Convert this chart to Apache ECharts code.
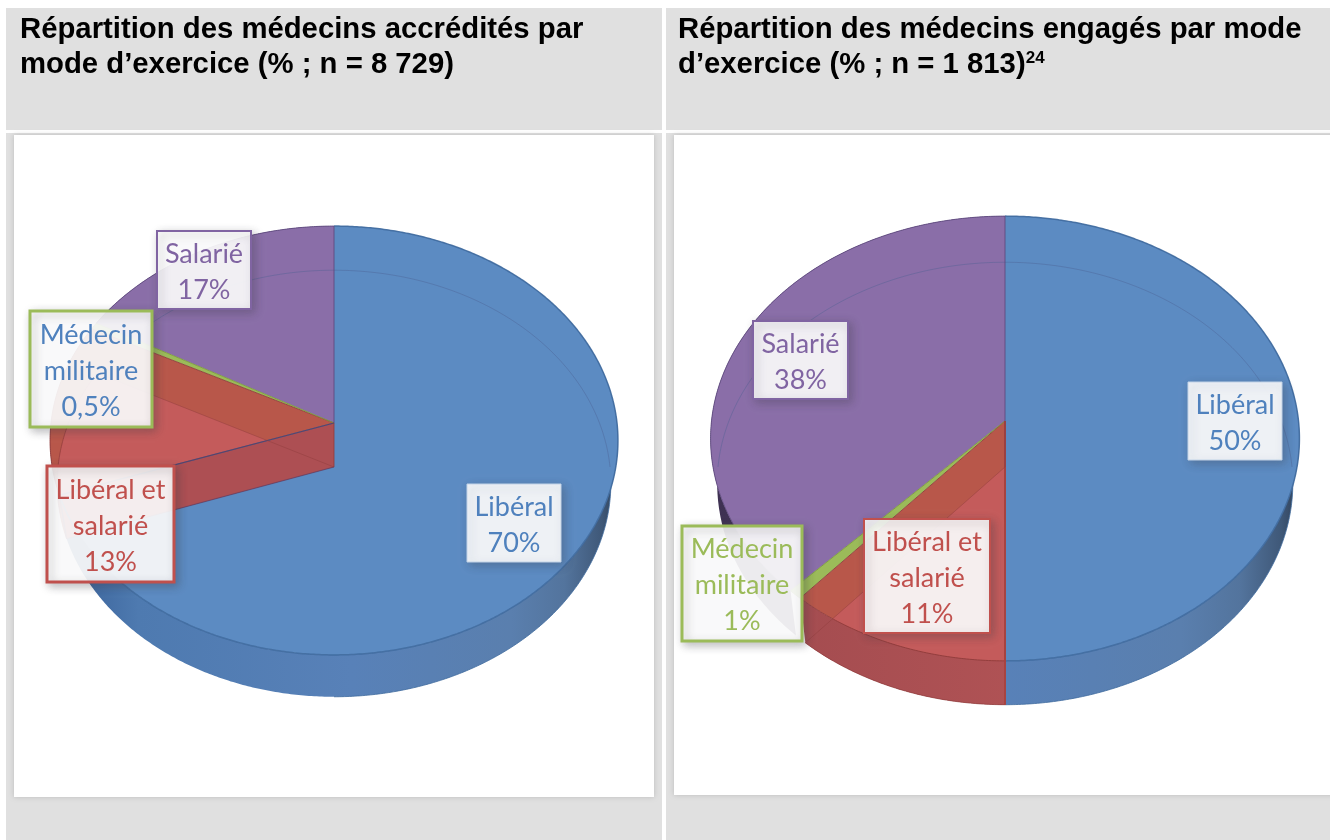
<!DOCTYPE html>
<html><head><meta charset="utf-8">
<style>html,body{margin:0;padding:0;background:#fff}#c{width:1330px;height:840px}</style>
<script src="https://cdn.jsdelivr.net/npm/echarts@6/dist/echarts.min.js"></script>
</head><body><div id="c"></div>
<script>
// --- data ---
const categories = ['Libéral', 'Libéral et salarié', 'Médecin militaire', 'Salarié'];
const accredites = [70, 13, 0.5, 17];
const engages = [50, 11.4, 0.7, 37.9];
const accreditesLabels = ['70%', '13%', '0,5%', '17%'];
const engagesLabels = ['50%', '11%', '1%', '38%'];
const labelNames = ['Libéral', 'Libéral et\nsalarié', 'Médecin\nmilitaire', 'Salarié'];
const titles = [
  'Répartition des médecins accrédités par\nmode d’exercice (% ; n = 8 729)',
  'Répartition des médecins engagés par mode\nd’exercice (% ; n = 1 813)'
];
const footnote = '24';

// --- styles & geometry ---
const C = {
  top: ['#5C8BC2', '#C45B5B', '#9BBB59', '#8A6EA8'],
  bandA: '#B8574A', bandC: '#AD4F53',
  edge: ['#3F6A9E', '#8E3B3B', '#7C9A3E', '#5F4A80'],
  border: ['#C3D4E8', '#C0504D', '#9BBB59', '#8064A2']
};
const pieA = {
  top: {cx: 334, cy: 423, a: 283, b: 213, k: 0.0816},
  bot: {cx: 334, cy: 467, a: 276, b: 212, k: 0.0773},
  left: 85, right: 618, r0Edge: '#5A3F66', r0W: 1.2,
  boxes: [[467, 484, 94, 78], [47, 466, 127, 116], [30, 311, 122, 116], [157, 231, 94, 78]],
  boxLw: [1, 3, 3, 2],
  textCol: ['#4F81BD', '#C0504D', '#4F81BD', '#8064A2'],
  values: accredites, pct: accreditesLabels
};
const pieB = {
  top: {cx: 1005, cy: 421, a: 293.5, b: 221, k: 0.0787},
  bot: {cx: 1005, cy: 467, a: 287, b: 220, k: 0.0745},
  left: 710, right: 1299, r0Edge: '#A8423F', r0W: 2,
  boxes: [[1188, 382, 94, 78], [864, 519, 126, 114], [682, 526, 120, 115], [753, 321, 95, 78]],
  boxLw: [1, 2, 3, 2],
  textCol: ['#4F81BD', '#C0504D', '#9BBB59', '#8064A2'],
  values: engages, pct: engagesLabels
};

function pt(g, deg) {
  const t = deg * Math.PI / 180, sx = Math.sin(t), sy = -Math.cos(t), d = 1 - g.k * sy;
  return [g.cx + g.a * sx / d, g.cy + g.b * sy / d];
}
function arc(g, a0, a1) {
  const pts = [], n = Math.max(2, Math.ceil(Math.abs(a1 - a0) / 0.5));
  for (let i = 0; i <= n; i++) pts.push(pt(g, a0 + (a1 - a0) * i / n));
  return pts;
}
const sector = (g, a0, a1) => [[g.cx, g.cy]].concat(arc(g, a0, a1));
function angles(values) {
  const tot = values.reduce((s, v) => s + v, 0); let c = 0;
  return values.map(v => { const a = c; c += v; return [a / tot * 360, c / tot * 360]; });
}
function wallFill(p, i) {
  const stops = i === 0
    ? [[0, '#3E679E'], [0.1, '#4E7AB0'], [0.5, '#5881B8'], [0.8, '#5A7FAE'], [0.9, '#53749D'], [0.97, '#3F5878'], [1, '#2F3F55']]
    : i === 1 ? [[0, '#A04A4E'], [1, '#BE5A5B']]
    : [[0, '#3E3152'], [1, '#5F4A80']];
  return {type: 'linear', x: p.left, y: 0, x2: p.right, y2: 0, global: true,
    colorStops: stops.map(s => ({offset: s[0], color: s[1]}))};
}
function poly(points, style, extra) {
  return Object.assign({type: 'polygon', shape: {points}, style}, extra || {});
}
function line(points, stroke, w, op) {
  return {type: 'polyline', shape: {points}, style: {fill: 'none', stroke, lineWidth: w, opacity: op == null ? 1 : op}};
}
function pieLayers(p) {
  const A = angles(p.values), L = [];
  const apexT = [p.top.cx, p.top.cy], apexB = [p.bot.cx, p.bot.cy];
  // outer walls
  [3, 0].forEach(i => {
    const w = arc(p.top, A[i][0], A[i][1]).concat(arc(p.bot, A[i][1], A[i][0]));
    L.push(poly(w, {fill: wallFill(p, i)}));
  });
  // bottom silhouette
  L.push(line(arc(p.bot, 90, 180), '#3F6A9E', 1, 0.8));
  // top faces
  [3, 0].forEach(i => {
    L.push(poly(sector(p.top, A[i][0], A[i][1]), {fill: C.top[i]}));
  });
  // see-through rim of the lower face
  L.push(line(arc(p.bot, 270, 450), '#4A5F90', 1, 0.4));
  // second slice: lower face, radial wall, outer wall, upper face, overlap
  const r = A[1], g = A[2];
  L.push(poly(sector(p.bot, r[0], r[1]), {fill: C.bandC}));
  L.push(poly([apexT, pt(p.top, r[0]), pt(p.bot, r[0]), apexB], {fill: C.bandC}));
  L.push(poly(arc(p.top, r[0], r[1]).concat(arc(p.bot, r[1], r[0])), {fill: wallFill(p, 1)}));
  L.push(poly(sector(p.top, r[0], r[1]), {fill: C.bandA}));
  L.push(poly(sector(p.bot, r[0], r[1]), {fill: C.top[1]},
    {clipPath: {type: 'polygon', shape: {points: sector(p.top, r[0], r[1])}}}));
  // third slice
  L.push(poly(sector(p.top, g[0], g[1]), {fill: C.top[2]}));
  // strokes
  A.forEach((a, i) => {
    L.push(line(arc(p.top, a[0], a[1]), C.edge[i], i === 0 ? 1.5 : 1, 0.9));
    L.push(line([apexT, pt(p.top, a[1])], C.edge[i], 1, 0.9));
  });
  L.push(line([apexT, pt(p.top, r[0])], p.r0Edge, p.r0W, 0.9));
  L.push(line([apexT, apexB], '#8E3B3B', 1, 0.8));
  L.push(line(arc(p.bot, r[0], r[1]), '#8E3B3B', 1, 0.7));
  L.push(line([apexB, pt(p.bot, r[0])], p.r0Edge, p.r0W, 0.7));
  L.push(line([pt(p.top, r[0]), pt(p.bot, r[0])], p.r0Edge, p.r0W, 0.9));
  L.push(line([apexB, pt(p.bot, r[1])], '#8E3B3B', 1, 0.45));
  return L;
}
function labelEl(p, i) {
  const b = p.boxes[i], col = C.border[i], txt = labelNames[i] + '\n' + p.pct[i];
  return {type: 'group', children: [
    {type: 'rect', shape: {x: b[0], y: b[1], width: b[2], height: b[3]},
      style: {fill: 'rgba(255,255,255,0.9)', stroke: col, lineWidth: p.boxLw[i],
        shadowBlur: 9, shadowOffsetX: 3, shadowOffsetY: 3, shadowColor: 'rgba(60,60,70,0.35)'}},
    {type: 'text', x: b[0] + b[2] / 2, y: b[1] + b[3] / 2 + 2,
      style: {text: txt, fill: p.textCol[i], font: '27px Lato', lineHeight: 36, align: 'center', verticalAlign: 'middle'}}
  ]};
}
function pieSeries(p, name) {
  const layers = pieLayers(p);
  return [{
    type: 'custom', name, coordinateSystem: 'none', silent: true, z: 3, animation: false,
    data: layers.map((_, i) => [i]),
    renderItem: (params) => layers[params.dataIndex]
  }, {
    type: 'custom', name: name + ' labels', coordinateSystem: 'none', silent: true, z: 4, animation: false,
    data: p.values.map((v, i) => ({name: categories[i], value: [i, v]})),
    renderItem: (params) => labelEl(p, params.dataIndex)
  }];
}
const panelShadow = {shadowBlur: 5, shadowColor: 'rgba(120,120,120,0.35)'};
const chart = echarts.init(document.getElementById('c'), null, {renderer: 'canvas'});
const titleStyle = {fontFamily: '"Liberation Sans"', fontWeight: 'bold', fontSize: 29.3, lineHeight: 35, color: '#000'};
chart.setOption({
  animation: false,
  backgroundColor: '#fff',
  title: [
    {text: titles[0], left: 20, top: 12, padding: 0, textStyle: titleStyle},
    {text: titles[1].split('\n')[0] + '\n{a|' + titles[1].split('\n')[1] + '}{s|' + footnote + '}', left: 678, top: 12, padding: 0,
      textStyle: Object.assign({}, titleStyle, {rich: {
        a: {fontFamily: '"Liberation Sans"', fontWeight: 'bold', fontSize: 29.3, lineHeight: 35, color: '#000'},
        s: {fontFamily: '"Liberation Sans"', fontWeight: 'bold', fontSize: 17, lineHeight: 35, color: '#000', verticalAlign: 'top', padding: [3, 0, 0, 0]}
      }})}
  ],
  graphic: {elements: [
    {type: 'rect', z: -10, shape: {x: 6, y: 8, width: 656, height: 122}, style: {fill: '#E0E0E0'}},
    {type: 'rect', z: -10, shape: {x: 666, y: 8, width: 664, height: 122}, style: {fill: '#E0E0E0'}},
    {type: 'rect', z: -10, shape: {x: 6, y: 133, width: 656, height: 707}, style: {fill: '#E0E0E0'}},
    {type: 'rect', z: -10, shape: {x: 666, y: 133, width: 664, height: 707}, style: {fill: '#E0E0E0'}},
    {type: 'rect', z: -9, shape: {x: 14, y: 135, width: 640, height: 662}, style: Object.assign({fill: '#fff'}, panelShadow)},
    {type: 'rect', z: -9, shape: {x: 674, y: 135, width: 670, height: 660}, style: Object.assign({fill: '#fff'}, panelShadow)}
  ]},
  series: [...pieSeries(pieA, 'Médecins accrédités'), ...pieSeries(pieB, 'Médecins engagés')]
});
</script></body></html>
